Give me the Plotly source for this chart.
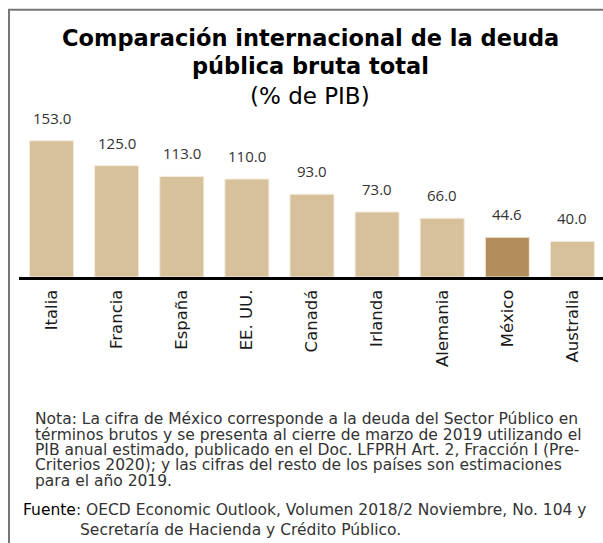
import plotly.graph_objects as go

paises = ["Italia", "Francia", "España", "EE. UU.", "Canadá", "Irlanda", "Alemania", "México", "Australia"]
deuda = [153.0, 125.0, 113.0, 110.0, 93.0, 73.0, 66.0, 44.6, 40.0]
etiquetas = ["153.0", "125.0", "113.0", "110.0", "93.0", "73.0", "66.0", "44.6", "40.0"]
destacado = "México"

titulo_1 = "Comparación internacional de la deuda"
titulo_2 = "pública bruta total"
subtitulo = "(% de PIB)"
nota = [
    "Nota: La cifra de México corresponde a la deuda del Sector Público en",
    "términos brutos y se presenta al cierre de marzo de 2019 utilizando el",
    "PIB anual estimado, publicado en el Doc. LFPRH Art. 2, Fracción I (Pre-",
    "Criterios 2020); y las cifras del resto de los países son estimaciones",
    "para el año 2019.",
]
fuente_1 = "<span style='color:#000'>Fuente</span>: OECD Economic Outlook, Volumen 2018/2 Noviembre, No. 104 y"
fuente_2 = "Secretaría de Hacienda y Crédito Público."

W, H = 603, 543
ML, MR, MT = 19, 0, 100
PLOT_BOTTOM = 277.5
MB = H - PLOT_BOTTOM
FONT = "DejaVu Sans"
TICKFONT = "Open Sans"

colores = ["#B38E5D" if p == destacado else "#D6C19B" for p in paises]

fig = go.Figure(go.Bar(
    x=paises, y=deuda, width=0.676,
    marker=dict(color=colores, line=dict(color="#F3EBDD", width=1)),
    hoverinfo="skip",
))

for p, v, t in zip(paises, deuda, etiquetas):
    fig.add_annotation(x=p, y=v, text=t, showarrow=False, xref="x", yref="y",
                       yanchor="bottom", yshift=11,
                       font=dict(family=TICKFONT, size=15, color="#333333"))

def px_x(px):
    return (px - ML) / (W - ML - MR)

def px_y(py):
    return (H - MB - py) / (H - MT - MB)

# title lines
fig.add_annotation(x=px_x(310), y=px_y(38), xref="paper", yref="paper", text="<b>" + titulo_1 + "</b>",
                   showarrow=False, xanchor="center", yanchor="middle",
                   font=dict(family=FONT, size=22.5, color="#000000"))
fig.add_annotation(x=px_x(310), y=px_y(66), xref="paper", yref="paper", text="<b>" + titulo_2 + "</b>",
                   showarrow=False, xanchor="center", yanchor="middle",
                   font=dict(family=FONT, size=22.5, color="#000000"))
fig.add_annotation(x=px_x(310), y=px_y(96), xref="paper", yref="paper", text=subtitulo,
                   showarrow=False, xanchor="center", yanchor="middle",
                   font=dict(family=FONT, size=23, color="#000000"))

for i, linea in enumerate(nota):
    fig.add_annotation(x=px_x(33), y=px_y(420 + i * 15.5), xref="paper", yref="paper", text=linea,
                       showarrow=False, xanchor="left", yanchor="middle",
                       font=dict(family=FONT, size=15.5, color="#333333"))
fig.add_annotation(x=px_x(21), y=px_y(511), xref="paper", yref="paper", text=fuente_1,
                   showarrow=False, xanchor="left", yanchor="middle",
                   font=dict(family=FONT, size=15.5, color="#333333"))
fig.add_annotation(x=px_x(78), y=px_y(531), xref="paper", yref="paper", text=fuente_2,
                   showarrow=False, xanchor="left", yanchor="middle",
                   font=dict(family=FONT, size=15.5, color="#333333"))

# frame (left and top borders)
fig.add_shape(type="line", xref="paper", yref="paper", x0=px_x(9), x1=px_x(9), y0=px_y(9.5), y1=px_y(545),
              line=dict(color="#777777", width=2))
fig.add_shape(type="line", xref="paper", yref="paper", x0=px_x(8), x1=px_x(605), y0=px_y(9.5), y1=px_y(9.5),
              line=dict(color="#777777", width=2))

ymax = (PLOT_BOTTOM - MT) / 0.893
fig.update_layout(
    width=W, height=H,
    margin=dict(l=ML, r=MR, t=MT, b=MB, pad=0),
    plot_bgcolor="white", paper_bgcolor="white",
    showlegend=False,
    xaxis=dict(range=[-0.5, 8.47], showline=True, linecolor="#000000", linewidth=3,
               tickangle=-90, ticks="", ticklabelstandoff=3,
               tickfont=dict(family=FONT, size=16.5, color="#1a1a1a"), fixedrange=True),
    yaxis=dict(range=[0, ymax], visible=False, showgrid=False, zeroline=False, fixedrange=True),
)

fig.write_html("out.html", config={"displayModeBar": False},
               post_script="document.body.style.margin='0';document.body.style.overflow='hidden';")
